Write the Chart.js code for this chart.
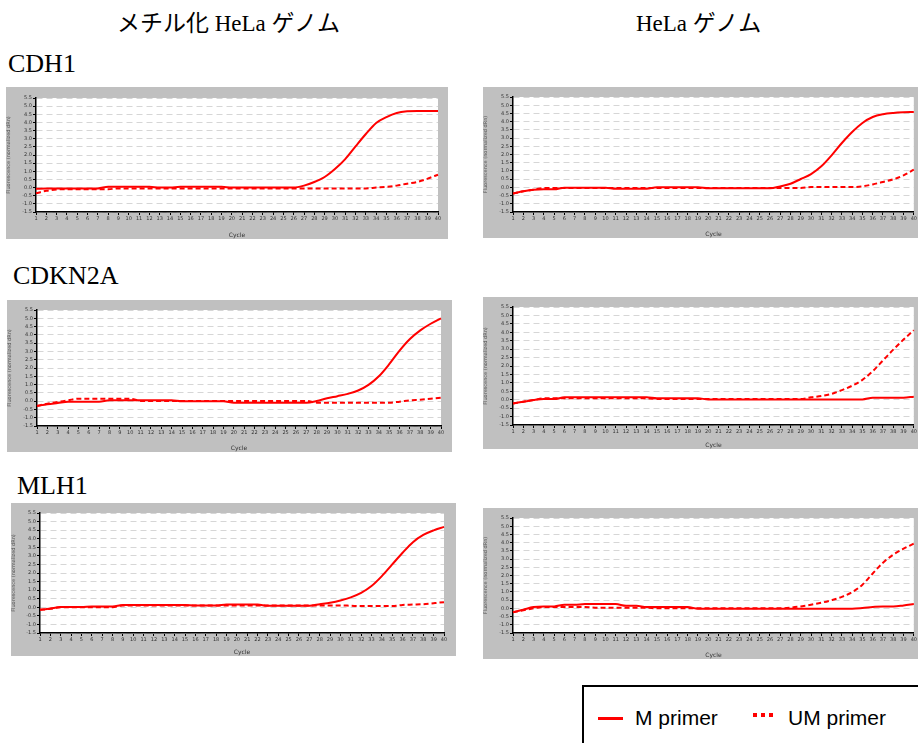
<!DOCTYPE html>
<html lang="ja">
<head>
<meta charset="UTF-8">
<title>メチル化 HeLa ゲノム / HeLa ゲノム — M / UM primer</title>
<script src="https://cdn.jsdelivr.net/npm/chart.js@4"></script>
<style>
  * { margin: 0; padding: 0; box-sizing: border-box; }
  body { width: 918px; height: 743px; background: #fff; position: relative; overflow: hidden; color: #000;
         font-family: 'Liberation Serif', 'Noto Sans CJK JP', serif; }
  .txt { position: absolute; white-space: nowrap; }
  .head { font-size: 23px; line-height: 23px; }
  .gene { font-size: 26px; line-height: 26px; }
  .panel { position: absolute; background: #c0c0c0; }
  .legend { position: absolute; left: 582px; top: 685px; width: 400px; height: 100px; border: 2px solid #000;
            font-family: 'Liberation Sans', sans-serif; font-size: 21px; line-height: 21px; }
  .legend .solid { position: absolute; left: 14px; top: 30px; width: 25px; height: 3px; background: #f00; }
  .legend .dots { position: absolute; left: 169px; top: 26px; width: 20px; height: 4px;
                  background: repeating-linear-gradient(to right, #f00 0 4px, transparent 4px 8px); }
</style>
</head>
<body>
  <div class="txt head" style="left:117px; top:12px">メチル化 HeLa ゲノム</div>
  <div class="txt head" style="left:636px; top:12px">HeLa ゲノム</div>
  <div class="txt gene" style="left:8px; top:51px">CDH1</div>
  <div class="txt gene" style="left:13px; top:263px">CDKN2A</div>
  <div class="txt gene" style="left:17px; top:473px">MLH1</div>

  <div class="panel" id="p1" style="left:6px; top:87px; width:442px; height:152px"><canvas></canvas></div>
  <div class="panel" id="p2" style="left:483px; top:87px; width:435px; height:151px"><canvas></canvas></div>
  <div class="panel" id="p3" style="left:7px; top:300px; width:445px; height:152px"><canvas></canvas></div>
  <div class="panel" id="p4" style="left:483px; top:297px; width:435px; height:152px"><canvas></canvas></div>
  <div class="panel" id="p5" style="left:11px; top:503px; width:445px; height:153px"><canvas></canvas></div>
  <div class="panel" id="p6" style="left:483px; top:508px; width:435px; height:151px"><canvas></canvas></div>

  <div class="legend">
    <span class="solid"></span>
    <span class="txt" style="left:51px; top:20px">M primer</span>
    <span class="dots"></span>
    <span class="txt" style="left:204px; top:20px">UM primer</span>
  </div>

<script>
// cycles on the x axis
const cycles = [1, 2, 3, 4, 5, 6, 7, 8, 9, 10, 11, 12, 13, 14, 15, 16, 17, 18, 19, 20,
                21, 22, 23, 24, 25, 26, 27, 28, 29, 30, 31, 32, 33, 34, 35, 36, 37, 38, 39, 40];

// fluorescence (M = methylated primer, UM = unmethylated primer)
const cdh1MetM = [-0.08, -0.06, -0.05, -0.05, -0.05, -0.05, -0.05, 0.05, 0.05, 0.05,
                  0.05, 0.05, 0, 0, 0.05, 0.05, 0.05, 0.05, 0.05, 0,
                  0, 0, 0, 0, 0, 0, 0.12, 0.34, 0.65, 1.14,
                  1.75, 2.53, 3.29, 3.97, 4.33, 4.58, 4.68, 4.7, 4.7, 4.7];
const cdh1MetUM = [-0.35, -0.2, -0.12, -0.1, -0.1, -0.1, -0.1, -0.1, -0.05, -0.05,
                   -0.05, -0.05, -0.05, -0.05, -0.05, -0.05, -0.05, -0.05, -0.05, -0.05,
                   -0.05, -0.05, -0.05, -0.05, -0.05, -0.05, -0.05, -0.05, -0.05, -0.05,
                   -0.05, -0.05, -0.05, 0, 0.04, 0.12, 0.24, 0.35, 0.55, 0.79];

const cdh1HelaM = [-0.38, -0.24, -0.14, -0.12, -0.12, -0.02, -0.02, -0.02, -0.02, -0.02,
                   -0.08, -0.08, -0.08, -0.08, 0, 0, 0, 0, 0, -0.06,
                   -0.06, -0.06, -0.06, -0.06, -0.06, -0.06, 0.06, 0.22, 0.51, 0.81,
                   1.28, 1.95, 2.7, 3.37, 3.92, 4.28, 4.45, 4.53, 4.57, 4.59];
const cdh1HelaUM = [-0.38, -0.24, -0.14, -0.04, -0.04, -0.04, -0.04, -0.04, -0.04, -0.04,
                    -0.04, -0.04, -0.04, -0.04, -0.04, -0.04, -0.04, -0.04, -0.04, -0.04,
                    -0.04, -0.04, -0.04, -0.04, -0.04, -0.04, -0.04, -0.04, -0.04, 0.02,
                    0.02, 0.02, 0.02, 0.02, 0.06, 0.18, 0.33, 0.49, 0.73, 1.08];

const cdkn2aMetM = [-0.29, -0.19, -0.11, -0.03, -0.03, -0.03, -0.03, 0.05, 0.05, 0.05,
                    0.05, 0.05, 0.05, 0.05, -0.01, -0.01, -0.01, -0.01, -0.01, -0.09,
                    -0.09, -0.09, -0.09, -0.09, -0.09, -0.09, -0.09, 0.01, 0.17, 0.3,
                    0.44, 0.64, 0.98, 1.5, 2.23, 3.05, 3.75, 4.27, 4.67, 5.0];
const cdkn2aMetUM = [-0.29, -0.15, -0.05, 0.05, 0.15, 0.15, 0.15, 0.15, 0.15, 0.15,
                     0.01, 0.01, 0.01, 0.01, 0.01, 0.01, 0.01, 0.01, 0.01, 0.01,
                     0.01, 0.01, 0.01, 0.01, 0.01, 0.01, 0.01, -0.09, -0.09, -0.09,
                     -0.09, -0.09, -0.09, -0.09, -0.09, -0.03, 0.05, 0.09, 0.15, 0.21];

const cdkn2aHelaM = [-0.22, -0.12, -0.02, 0.04, 0.04, 0.14, 0.14, 0.14, 0.14, 0.14,
                     0.14, 0.14, 0.14, 0.14, 0.08, 0.08, 0.08, 0.08, 0.08, 0.02,
                     0.02, 0.02, 0.02, 0.02, 0.02, 0.02, 0.02, 0.02, 0.02, 0.02,
                     0.02, 0.02, 0.02, 0.02, 0.02, 0.12, 0.12, 0.12, 0.12, 0.18];
const cdkn2aHelaUM = [-0.22, -0.12, -0.02, 0.08, 0.08, 0.08, 0.08, 0.08, 0.08, 0.08,
                      0.08, 0.08, 0.08, 0.08, 0.04, 0.04, 0.04, 0.04, 0.04, 0.04,
                      0.04, 0.04, 0.04, 0.04, 0.04, 0.04, 0.04, 0.04, 0.04, 0.14,
                      0.22, 0.35, 0.57, 0.83, 1.18, 1.69, 2.33, 2.97, 3.57, 4.12];

const mlh1MetM = [-0.15, -0.07, 0.01, 0.01, 0.01, 0.05, 0.05, 0.05, 0.14, 0.14,
                  0.14, 0.14, 0.14, 0.14, 0.14, 0.1, 0.1, 0.1, 0.16, 0.16,
                  0.16, 0.16, 0.09, 0.09, 0.09, 0.09, 0.09, 0.18, 0.27, 0.4,
                  0.58, 0.84, 1.24, 1.82, 2.5, 3.18, 3.8, 4.22, 4.49, 4.69];
const mlh1MetUM = [-0.15, -0.09, 0, 0, 0, 0, 0, 0, 0.11, 0.11,
                   0.11, 0.11, 0.11, 0.11, 0.11, 0.11, 0.11, 0.11, 0.11, 0.11,
                   0.11, 0.11, 0.11, 0.11, 0.11, 0.11, 0.11, 0.11, 0.11, 0.11,
                   0.09, 0.07, 0.07, 0.07, 0.07, 0.14, 0.16, 0.18, 0.24, 0.3];

const mlh1HelaM = [-0.24, -0.08, 0.08, 0.12, 0.12, 0.22, 0.22, 0.26, 0.26, 0.26,
                   0.26, 0.16, 0.16, 0.08, 0.08, 0.08, 0.08, 0.08, -0.02, -0.02,
                   -0.02, -0.02, -0.02, -0.02, -0.02, -0.02, -0.02, -0.02, -0.02, -0.02,
                   -0.02, -0.02, -0.02, -0.02, 0.02, 0.08, 0.12, 0.12, 0.18, 0.26];
const mlh1HelaUM = [-0.24, -0.12, 0, 0.08, 0.08, 0.08, 0.08, 0.08, 0.04, 0.04,
                    0.04, 0.04, 0.04, 0.04, 0, 0, 0, 0, 0, 0,
                    0, 0, 0, 0, 0, 0, 0, 0.04, 0.12, 0.22,
                    0.34, 0.5, 0.7, 0.99, 1.44, 2.12, 2.78, 3.27, 3.63, 3.94];

// y axis of the instrument plots
const yMin = -1.5;
const yMax = 5.5;
const yStep = 0.5;
const yTitle = 'Fluorescence (normalized dRn)';
const xTitle = 'Cycle';

// panel box + plot area in page pixels: [left, top, right, bottom]
const panels = [
  { id: 'p1', box: [6, 87, 448, 239],   plot: [36, 98, 438, 212],   m: cdh1MetM,    um: cdh1MetUM },
  { id: 'p2', box: [483, 87, 918, 238], plot: [513, 97, 915, 212],  m: cdh1HelaM,   um: cdh1HelaUM },
  { id: 'p3', box: [7, 300, 452, 452],  plot: [37, 310, 441, 426],  m: cdkn2aMetM,  um: cdkn2aMetUM },
  { id: 'p4', box: [483, 297, 918, 449], plot: [513, 307, 915, 425], m: cdkn2aHelaM, um: cdkn2aHelaUM },
  { id: 'p5', box: [11, 503, 456, 656], plot: [40, 513, 444, 633],  m: mlh1MetM,    um: mlh1MetUM },
  { id: 'p6', box: [483, 508, 918, 659], plot: [513, 518, 915, 633], m: mlh1HelaM,   um: mlh1HelaUM }
];

const plotBg = {
  id: 'plotBg',
  beforeDraw(chart) {
    const { ctx, chartArea: a } = chart;
    ctx.save();
    ctx.fillStyle = '#fff';
    ctx.fillRect(a.left, a.top, a.width, a.height);
    ctx.restore();
  }
};

const tickFont = { family: 'DejaVu Sans', size: 5 };

panels.forEach(p => {
  const [bl, bt, br, bb] = p.box;
  const [pl, pt, pr, pb] = p.plot;
  new Chart(document.querySelector('#' + p.id + ' canvas'), {
    type: 'line',
    data: {
      labels: cycles,
      datasets: [
        { label: 'M primer', data: p.m, borderColor: '#f00', borderWidth: 2, pointRadius: 0,
          cubicInterpolationMode: 'monotone', fill: false },
        { label: 'UM primer', data: p.um, borderColor: '#f00', borderWidth: 2, borderDash: [5, 3],
          pointRadius: 0, cubicInterpolationMode: 'monotone', fill: false }
      ]
    },
    options: {
      responsive: true,
      maintainAspectRatio: false,
      animation: false,
      events: [],
      layout: { padding: { top: pt - bt, right: br - pr, left: 0, bottom: 0 } },
      plugins: { legend: { display: false }, tooltip: { enabled: false } },
      scales: {
        x: {
          afterFit: s => { s.height = bb - pb; },
          ticks: { autoSkip: false, maxRotation: 0, font: tickFont, color: '#333', padding: 1 },
          grid: { drawOnChartArea: false, tickLength: 3, tickColor: '#000', tickWidth: 1 },
          border: { color: '#000', width: 1.5 },
          title: { display: true, text: xTitle, font: { family: 'DejaVu Sans', size: 6 }, color: '#333',
                   padding: { top: 1, bottom: 0 } }
        },
        y: {
          min: yMin,
          max: yMax,
          afterFit: s => { s.width = pl - bl; },
          ticks: { stepSize: yStep, autoSkip: false, font: tickFont, color: '#333', padding: 1,
                   callback: v => v.toFixed(1) },
          grid: { color: '#d6d6d6', lineWidth: 1, tickLength: 3, tickColor: '#000', tickWidth: 1 },
          border: { color: '#000', width: 1.5, dash: [6, 4] },
          title: { display: true, text: yTitle, font: { family: 'DejaVu Sans', size: 5 }, color: '#555',
                   padding: 0 }
        }
      }
    },
    plugins: [plotBg]
  });
});
</script>
</body>
</html>
